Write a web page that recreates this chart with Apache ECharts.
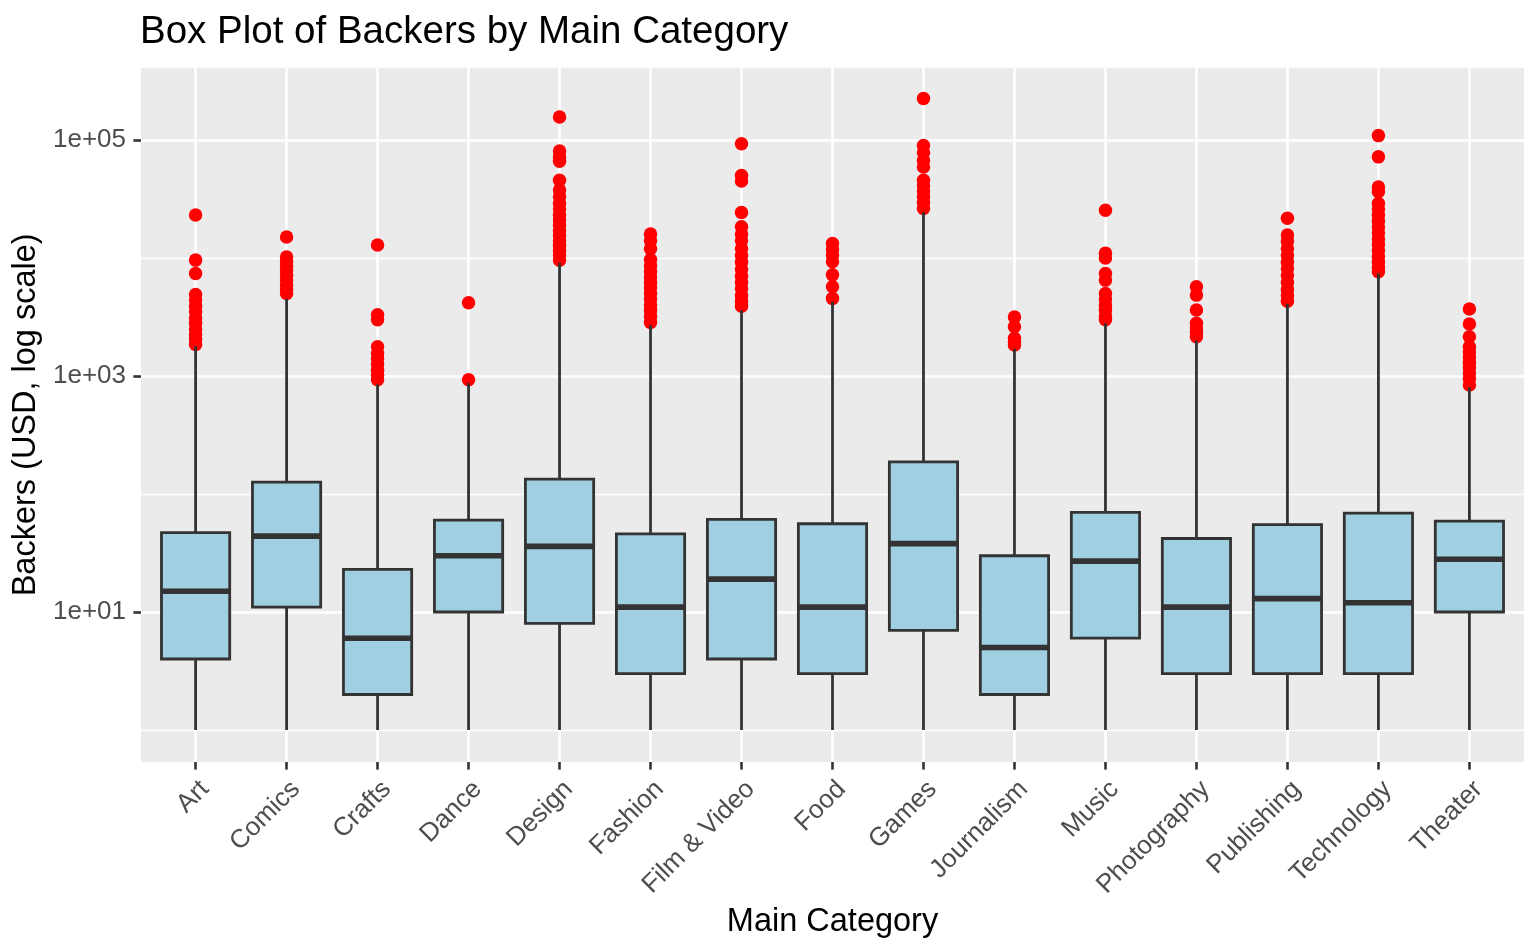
<!DOCTYPE html>
<html>
<head>
<meta charset="utf-8">
<script src="https://cdn.jsdelivr.net/npm/echarts@6/dist/echarts.min.js"></script>
<style>
html, body { margin: 0; padding: 0; background: #ffffff; }
#chart { width: 1540px; height: 951px; }
</style>
</head>
<body>
<div id="chart"></div>
<script>
// ---- data ----
const categories = ['Art', 'Comics', 'Crafts', 'Dance', 'Design', 'Fashion', 'Film & Video', 'Food',
  'Games', 'Journalism', 'Music', 'Photography', 'Publishing', 'Technology', 'Theater'];
const whiskerLow  = [1, 1, 1, 1, 1, 1, 1, 1, 1, 1, 1, 1, 1, 1, 1];
const quartile1   = [4, 11, 2, 10, 8, 3, 4, 3, 7, 2, 6, 3, 3, 3, 10];
const medians     = [15, 44, 6, 30, 36, 11, 19, 11, 38, 5, 27, 11, 13, 12, 28];
const quartile3   = [47, 126, 23, 60, 134, 46, 61, 56, 187, 30, 70, 42, 55, 69, 59];
const whiskerHigh = [1780, 4500, 850, 870, 9100, 2700, 3600, 4250, 24500, 1700, 2800, 2000, 4100, 7400, 800];

const outliersArt = [23200, 9600, 7400, 4900, 4400, 3900, 3500, 3100, 2800, 2500, 2250, 2050, 1850];
const outliersComics = [15100, 10200, 9300, 8500, 7800, 7100, 6500, 5900, 5400, 5000];
const outliersCrafts = [12900, 3300, 3000, 1770, 1550, 1400, 1250, 1120, 1020, 930];
const outliersDance = [4180, 930];
const outliersDesign = [157000, 80700, 72000, 66000, 45700, 37700, 33000, 29000, 26000, 23000, 21000,
  19000, 17000, 15500, 14000, 12800, 11600, 10600, 9600];
const outliersFashion = [16000, 14000, 12000, 9700, 8600, 7700, 6900, 6200, 5600, 5000, 4500, 4000,
  3600, 3200, 2850];
const outliersFilm = [93000, 50000, 45000, 24300, 18400, 16000, 14000, 12000, 10500, 9200, 8000, 7000,
  6200, 5500, 4800, 4300, 3900];
const outliersFood = [13300, 11800, 10600, 9300, 7200, 5700, 4550];
const outliersGames = [225000, 90000, 78000, 67000, 59000, 45700, 41000, 37000, 33000, 29500, 26300];
const outliersJournalism = [3160, 2620, 2090, 1950, 1830];
const outliersMusic = [25400, 11000, 10000, 7400, 6500, 5000, 4500, 4000, 3600, 3200, 3000];
const outliersPhotography = [5720, 4850, 3630, 2800, 2550, 2350, 2150];
const outliersPublishing = [21700, 15700, 13800, 12000, 10500, 9200, 8100, 7100, 6200, 5400, 4800, 4300];
const outliersTechnology = [109000, 72000, 40000, 36500, 29000, 26000, 23000, 20500, 18300, 16300, 14500,
  13000, 11600, 10300, 9200, 8300, 7650];
const outliersTheater = [3700, 2760, 2150, 1770, 1600, 1450, 1300, 1180, 1060, 950, 840];

const majorTicks = [10, 1000, 100000];
const minorTicks = [1, 100, 10000];
const tickLabels = ['1e+01', '1e+03', '1e+05'];

// ---- build series data ----
const outlierLists = [outliersArt, outliersComics, outliersCrafts, outliersDance, outliersDesign,
  outliersFashion, outliersFilm, outliersFood, outliersGames, outliersJournalism, outliersMusic,
  outliersPhotography, outliersPublishing, outliersTechnology, outliersTheater];

const boxData = categories.map((c, i) =>
  [i, whiskerLow[i], quartile1[i], medians[i], quartile3[i], whiskerHigh[i]]);
const outlierData = [];
outlierLists.forEach((list, i) => list.forEach(v => outlierData.push([i, v])));

// ---- layout constants ----
const panelLeft = 141, panelRight = 1524, panelTop = 67.7, panelBottom = 762;
const W = 1540, H = 951;
const unit = (panelRight - panelLeft) / 15.2;   // ggplot discrete expansion 0.6 per side
const yMin = Math.pow(10, -0.271);
const yMax = Math.pow(10, 5.613);
const FONT = '"Liberation Sans", Arial, Helvetica, sans-serif';
const INK = '#333333';

const chart = echarts.init(document.getElementById('chart'), null, { renderer: 'canvas' });

const option = {
  backgroundColor: '#ffffff',
  animation: false,
  title: {
    text: 'Box Plot of Backers by Main Category',
    left: panelLeft - 1,
    top: 13,
    padding: 0,
    textStyle: { fontFamily: FONT, fontSize: 38.5, fontWeight: 'normal', color: '#000000' }
  },
  grid: [
    { left: panelLeft, right: W - panelRight, top: panelTop, bottom: H - panelBottom,
      show: true, backgroundColor: '#EBEBEB', borderWidth: 0 },
    { left: panelLeft + 0.1 * unit, right: W - panelRight + 0.1 * unit, top: panelTop, bottom: H - panelBottom }
  ],
  xAxis: [
    {
      gridIndex: 0, type: 'value', min: -0.6, max: 14.6, splitNumber: 15,
      axisLine: { show: false, onZero: false }, axisTick: { show: false }, axisLabel: { show: false },
      splitLine: { show: true, showMinLine: false, showMaxLine: false,
        lineStyle: { color: '#ffffff', width: 2.6 } }
    },
    {
      gridIndex: 1, type: 'category', data: categories, boundaryGap: true,
      axisLine: { show: false, onZero: false },
      axisTick: { show: true, alignWithLabel: true, length: 7.6, lineStyle: { color: INK, width: 2.6 } },
      axisLabel: { rotate: 45, margin: 14, verticalAlign: 'top', align: 'right',
        fontFamily: FONT, fontSize: 26, color: '#4D4D4D', interval: 0 },
      splitLine: { show: false },
      name: 'Main Category', nameLocation: 'middle', nameGap: 142,
      nameTextStyle: { fontFamily: FONT, fontSize: 32.5, color: '#000000' }
    }
  ],
  yAxis: [
    {
      gridIndex: 0, type: 'log', logBase: 10, min: yMin, max: yMax,
      axisLine: { show: false, onZero: false },
      axisTick: { show: true, length: 7.6, customValues: majorTicks, lineStyle: { color: INK, width: 2.6 } },
      axisLabel: {
        customValues: majorTicks, margin: 15, fontFamily: FONT, fontSize: 26, color: '#4D4D4D',
        formatter: function (v) {
          const idx = majorTicks.findIndex(t => Math.abs(Math.log10(t) - Math.log10(v)) < 1e-6);
          return idx >= 0 ? tickLabels[idx] : '';
        }
      },
      splitLine: { show: true, lineStyle: { color: '#ffffff', width: 2.6 } },
      name: 'Backers (USD, log scale)', nameLocation: 'middle', nameGap: 94, nameRotate: 90,
      nameTextStyle: { fontFamily: FONT, fontSize: 32.5, color: '#000000' }
    },
    {
      gridIndex: 0, type: 'log', logBase: 10, min: yMin, max: yMax,
      axisLine: { show: false, onZero: false },
      axisTick: { show: false, customValues: minorTicks },
      axisLabel: { show: false },
      splitLine: { show: true, lineStyle: { color: '#ffffff', width: 1.3 } }
    },
    {
      gridIndex: 1, type: 'log', logBase: 10, min: yMin, max: yMax,
      axisLine: { show: false, onZero: false }, axisTick: { show: false }, axisLabel: { show: false },
      splitLine: { show: false }
    }
  ],
  series: [
    {
      name: 'outliers', type: 'scatter', xAxisIndex: 1, yAxisIndex: 2,
      data: outlierData, symbol: 'circle', symbolSize: 13.5, z: 2,
      itemStyle: { color: '#FF0000', opacity: 1 }
    },
    {
      name: 'boxes', type: 'custom', xAxisIndex: 1, yAxisIndex: 2, z: 3,
      data: boxData,
      encode: { x: 0, y: [1, 2, 3, 4, 5] },
      renderItem: function (params, api) {
        const x = api.value(0);
        const pLow = api.coord([x, api.value(1)]);
        const pQ1 = api.coord([x, api.value(2)]);
        const pMed = api.coord([x, api.value(3)]);
        const pQ3 = api.coord([x, api.value(4)]);
        const pHigh = api.coord([x, api.value(5)]);
        const bw = api.size([1, 1])[0] * 0.75;
        const cx = pMed[0];
        const lineStyle = { stroke: INK, lineWidth: 2.8, fill: null };
        return {
          type: 'group',
          children: [
            { type: 'line', shape: { x1: cx, y1: pLow[1], x2: cx, y2: pQ1[1] }, style: lineStyle },
            { type: 'line', shape: { x1: cx, y1: pQ3[1], x2: cx, y2: pHigh[1] }, style: lineStyle },
            { type: 'rect', shape: { x: cx - bw / 2, y: pQ3[1], width: bw, height: pQ1[1] - pQ3[1] },
              style: { fill: '#9FCFE0', stroke: INK, lineWidth: 2.8 } },
            { type: 'line', shape: { x1: cx - bw / 2, y1: pMed[1], x2: cx + bw / 2, y2: pMed[1] },
              style: { stroke: INK, lineWidth: 5.6 } }
          ]
        };
      }
    }
  ]
};

chart.setOption(option);
</script>
</body>
</html>
